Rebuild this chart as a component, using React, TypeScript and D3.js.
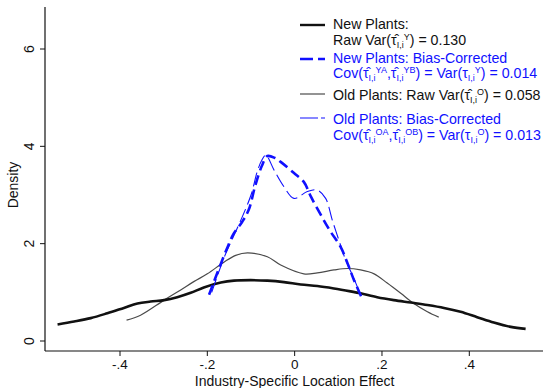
import React from "react";
import * as d3 from "d3";

const W = 543;
const H = 388;

// Data
const newRawX = [-0.543, -0.505, -0.467, -0.429, -0.391, -0.36, -0.33, -0.299, -0.269, -0.238, -0.208, -0.169, -0.139, -0.101, -0.0625, -0.0245, 0.014, 0.052, 0.09, 0.128, 0.151, 0.189, 0.227, 0.266, 0.304, 0.342, 0.38, 0.418, 0.456, 0.495, 0.529];
const newRawY = [0.34, 0.4, 0.47, 0.57, 0.68, 0.77, 0.81, 0.84, 0.9, 0.99, 1.1, 1.2, 1.24, 1.25, 1.24, 1.21, 1.16, 1.13, 1.08, 1.02, 0.98, 0.9, 0.84, 0.79, 0.74, 0.68, 0.6, 0.49, 0.38, 0.29, 0.25];

const oldRawX = [-0.385, -0.353, -0.299, -0.261, -0.231, -0.2, -0.162, -0.135, -0.108, -0.0625, -0.032, 0.021, 0.052, 0.09, 0.121, 0.151, 0.182, 0.212, 0.243, 0.273, 0.304, 0.33];
const oldRawY = [0.43, 0.53, 0.84, 1.05, 1.22, 1.38, 1.62, 1.76, 1.81, 1.73, 1.56, 1.38, 1.40, 1.46, 1.49, 1.46, 1.38, 1.19, 0.98, 0.77, 0.6, 0.49];

const newBcX = [-0.196, -0.175, -0.155, -0.14, -0.12, -0.105, -0.09, -0.075, -0.0625, -0.045, -0.032, -0.0015, 0.021, 0.037, 0.06, 0.082, 0.105, 0.121, 0.136, 0.156];
const newBcY = [0.95, 1.45, 1.9, 2.2, 2.45, 2.7, 3.2, 3.6, 3.8, 3.76, 3.68, 3.45, 3.27, 2.97, 2.59, 2.25, 1.94, 1.6, 1.25, 0.84];

const oldBcX = [-0.19, -0.16, -0.14, -0.12, -0.1, -0.085, -0.075, -0.066, -0.047, -0.0245, -0.0015, 0.029, 0.052, 0.071, 0.086, 0.101, 0.117, 0.135, 0.152];
const oldBcY = [1.0, 1.75, 2.15, 2.55, 3.0, 3.5, 3.72, 3.82, 3.51, 3.17, 2.93, 3.07, 3.1, 2.93, 2.49, 2.08, 1.66, 1.3, 0.92];

const xTicks = [-0.4, -0.2, 0, 0.2, 0.4];
const xTickLabels = ["-.4", "-.2", "0", ".2", ".4"];
const yTicks = [0, 2, 4, 6];
const yTickLabels = ["0", "2", "4", "6"];

const BLUE = "#1010ff";
const FONT = "'Liberation Sans', Arial, Helvetica, sans-serif";
const LFS = 14.2;

type Seg = { t: string; k?: "sub" | "sup" | "n" };

const tau = (hat: boolean) => (hat ? "τ\u0302" : "τ");

const legendRows: { y: number; color: string; segs: Seg[] }[] = [
  { y: 29, color: "#111", segs: [{ t: "New Plants:" }] },
  { y: 45, color: "#111", segs: [{ t: "Raw Var(" + tau(true) }, { t: "I,i", k: "sub" }, { t: "Y", k: "sup" }, { t: ") = 0.130", k: "n" }] },
  { y: 63, color: BLUE, segs: [{ t: "New Plants: Bias-Corrected" }] },
  { y: 78, color: BLUE, segs: [{ t: "Cov(" + tau(true) }, { t: "I,i", k: "sub" }, { t: "YA", k: "sup" }, { t: "," + tau(true), k: "n" }, { t: "I,i", k: "sub" }, { t: "YB", k: "sup" }, { t: ") = Var(" + tau(false), k: "n" }, { t: "I,i", k: "sub" }, { t: "Y", k: "sup" }, { t: ") = 0.014", k: "n" }] },
  { y: 100, color: "#111", segs: [{ t: "Old Plants: Raw Var(" + tau(true) }, { t: "I,i", k: "sub" }, { t: "O", k: "sup" }, { t: ") = 0.058", k: "n" }] },
  { y: 124, color: BLUE, segs: [{ t: "Old Plants: Bias-Corrected" }] },
  { y: 140, color: BLUE, segs: [{ t: "Cov(" + tau(true) }, { t: "I,i", k: "sub" }, { t: "OA", k: "sup" }, { t: "," + tau(true), k: "n" }, { t: "I,i", k: "sub" }, { t: "OB", k: "sup" }, { t: ") = Var(" + tau(false), k: "n" }, { t: "I,i", k: "sub" }, { t: "O", k: "sup" }, { t: ") = 0.013", k: "n" }] },
];

export default function App() {
  const x = d3.scaleLinear().domain([-0.4, 0.4]).range([120, 469.3]);
  const y = d3.scaleLinear().domain([0, 6]).range([341, 49]);
  const left = 45;
  const bottom = 351;
  const top = 7;

  const mk = (xs: number[], ys: number[]) =>
    d3
      .line<number>()
      .x((_, i) => x(xs[i]))
      .y((_, i) => y(ys[i]))
      .curve(d3.curveCatmullRom.alpha(0.5))(xs.map((_, i) => i)) || "";

  const renderSegs = (segs: Seg[]) => {
    const out: React.ReactNode[] = [];
    let state: "n" | "sub" | "sup" = "n";
    const off = (st: string) => (st === "sub" ? 3 : st === "sup" ? -5 : 0);
    segs.forEach((s, i) => {
      const k = s.k || "n";
      const dy = off(k) - off(state);
      state = k as any;
      out.push(
        <tspan key={i} dy={dy} fontSize={k === "n" ? LFS : 9}>
          {s.t}
        </tspan>
      );
    });
    return out;
  };

  return (
    <svg width={W} height={H} style={{ position: "absolute", left: 0, top: 0, background: "#fff" }} fontFamily={FONT}>
      <rect width={W} height={H} fill="#fff" />
      {/* axes */}
      <line x1={left} x2={left} y1={top} y2={bottom} stroke="#111" strokeWidth={1.2} />
      <line x1={left} x2={W} y1={bottom} y2={bottom} stroke="#111" strokeWidth={1.2} />
      {yTicks.map((t, i) => (
        <g key={t}>
          <line x1={left - 5} x2={left} y1={y(t)} y2={y(t)} stroke="#111" strokeWidth={1} />
          <text transform={`translate(${34},${y(t)}) rotate(-90)`} textAnchor="middle" fontSize={14} fill="#111">
            {yTickLabels[i]}
          </text>
        </g>
      ))}
      {xTicks.map((t, i) => (
        <g key={t}>
          <line x1={x(t)} x2={x(t)} y1={bottom} y2={bottom + 5} stroke="#111" strokeWidth={1} />
          <text x={x(t)} y={369} textAnchor="middle" fontSize={13.5} fill="#111">
            {xTickLabels[i]}
          </text>
        </g>
      ))}
      <text x={x(0)} y={386} textAnchor="middle" fontSize={14} fill="#111">
        Industry-Specific Location Effect
      </text>
      <text transform={`translate(18,${(top + bottom) / 2 + 6}) rotate(-90)`} textAnchor="middle" fontSize={14} fill="#111">
        Density
      </text>

      {/* curves */}
      <path d={mk(oldRawX, oldRawY)} fill="none" stroke="#4a4a4a" strokeWidth={1.2} />
      <path d={mk(newRawX, newRawY)} fill="none" stroke="#111" strokeWidth={2.6} />
      <path d={mk(oldBcX, oldBcY)} fill="none" stroke={BLUE} strokeWidth={1.1} strokeDasharray="14,5" />
      <path d={mk(newBcX, newBcY)} fill="none" stroke={BLUE} strokeWidth={2.6} strokeDasharray="10,5" />

      {/* legend */}
      <line x1={300} x2={325} y1={25} y2={25} stroke="#111" strokeWidth={2.4} />
      <line x1={300} x2={325} y1={59} y2={59} stroke={BLUE} strokeWidth={2.4} strokeDasharray="13,5" />
      <line x1={300} x2={325} y1={94} y2={94} stroke="#4a4a4a" strokeWidth={1.2} />
      <line x1={300} x2={325} y1={118} y2={118} stroke={BLUE} strokeWidth={1.1} strokeDasharray="18,3" />
      {legendRows.map((r, i) => (
        <text key={i} x={333} y={r.y} fill={r.color} fontSize={LFS}>
          {renderSegs(r.segs)}
        </text>
      ))}
    </svg>
  );
}
